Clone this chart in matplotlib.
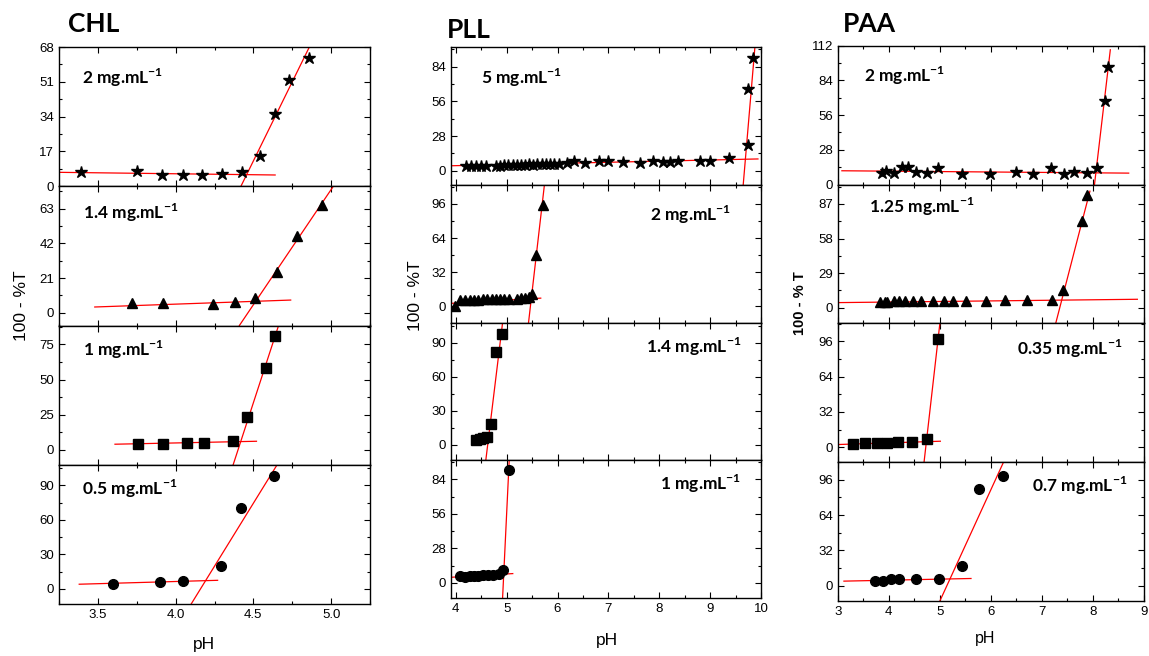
import numpy as np
import matplotlib
matplotlib.use("Agg")
import matplotlib.pyplot as plt
from matplotlib.ticker import AutoMinorLocator

plt.rcParams['font.family'] = ['Liberation Sans', 'DejaVu Sans']
plt.rcParams['mathtext.fontset'] = 'custom'
plt.rcParams['mathtext.rm'] = 'Lato'
plt.rcParams['mathtext.bf'] = 'Lato:bold'

# ---------------- CHL ----------------
chl_2_ph = [3.39, 3.75, 3.91, 4.05, 4.17, 4.30, 4.43, 4.54, 4.64, 4.73, 4.86]
chl_2_val = [6.8, 7.3, 5.4, 5.4, 5.7, 5.9, 7.0, 14.6, 35.3, 52.1, 62.6]
chl_2_base = ([3.25, 4.64], [6.8, 5.5])
chl_2_rise = ([4.42, 4.86], [0, 68])

chl_14_ph = [3.72, 3.92, 4.24, 4.38, 4.51, 4.65, 4.78, 4.94]
chl_14_val = [5.9, 5.9, 5.5, 6.5, 8.9, 24.8, 46.5, 65.0]
chl_14_base = ([3.48, 4.74], [3.5, 7.7])
chl_14_rise = ([4.41, 5.01], [-7.7, 76.0])

chl_1_ph = [3.76, 3.92, 4.07, 4.18, 4.37, 4.46, 4.58, 4.64]
chl_1_val = [4.2, 4.2, 4.7, 5.2, 6.1, 23.1, 58.5, 80.9]
chl_1_base = ([3.61, 4.52], [4.0, 6.1])
chl_1_rise = ([4.37, 4.66], [-10.6, 87.7])

chl_05_ph = [3.60, 3.90, 4.05, 4.29, 4.42, 4.63]
chl_05_val = [4.4, 6.1, 6.7, 20.3, 70.8, 98.4]
chl_05_base = ([3.38, 4.27], [4.1, 7.5])
chl_05_rise = ([4.10, 4.65], [-13.1, 107.4])

# ---------------- PLL ----------------
pll_5_ph = [4.20, 4.29, 4.40, 4.50, 4.59, 4.79, 4.87, 4.95, 5.03, 5.12, 5.20,
            5.28, 5.36, 5.44, 5.52, 5.60, 5.69, 5.77, 5.85, 5.93, 6.02, 6.18,
            6.32, 6.54, 6.82, 7.00, 7.29, 7.62, 7.87, 8.08, 8.21, 8.36, 8.81,
            9.00, 9.38, 9.75, 9.74, 9.85]
pll_5_val = [3.8, 4.0, 4.2, 4.0, 4.3, 4.0, 4.3, 4.5, 4.4, 4.7, 4.9, 4.8, 5.0,
             5.2, 5.0, 5.3, 5.5, 5.2, 5.6, 5.4, 5.8, 6.0, 7.7, 6.0, 8.2, 7.7,
             7.1, 6.6, 7.7, 7.1, 7.1, 8.2, 7.7, 8.2, 10.4, 21.1, 65.9, 91.4]
pll_5_base = ([3.9, 9.94], [4.1, 9.6])
pll_5_rise = ([9.65, 9.88], [-11.4, 99.7])

pll_2_ph = [3.98, 4.08, 4.18, 4.28, 4.36, 4.44, 4.53, 4.62, 4.71, 4.79, 4.87,
            4.95, 5.05, 5.20, 5.28, 5.36, 5.44, 5.49, 5.58, 5.71]
pll_2_val = [0.6, 5.5, 6.0, 6.0, 6.2, 6.2, 6.5, 6.5, 6.8, 6.8, 7.0, 6.5, 7.2,
             6.8, 7.5, 7.5, 8.5, 11.2, 47.8, 95.1]
pll_2_base = ([3.9, 5.67], [2.7, 7.6])
pll_2_rise = ([5.43, 5.74], [-15.4, 113.0])

pll_14_ph = [4.40, 4.48, 4.54, 4.61, 4.69, 4.80, 4.90]
pll_14_val = [4.4, 5.6, 6.2, 6.7, 18.8, 82.1, 97.4]
pll_14_base = ([4.38, 4.66], [3.5, 7.9])
pll_14_rise = ([4.59, 4.92], [-13.5, 107.6])

pll_1_ph = [4.08, 4.18, 4.27, 4.36, 4.44, 4.54, 4.64, 4.74, 4.84, 4.93, 5.04]
pll_1_val = [5.4, 5.2, 5.8, 5.6, 6.0, 6.4, 6.2, 6.8, 7.0, 10.9, 91.9]
pll_1_base = ([3.9, 5.12], [4.6, 7.6])
pll_1_rise = ([4.92, 5.05], [-12.2, 99.5])

# ---------------- PAA ----------------
paa_2_ph = [3.86, 3.94, 4.10, 4.25, 4.38, 4.53, 4.74, 4.97, 5.44, 5.98, 6.49,
            6.83, 7.17, 7.43, 7.63, 7.89, 8.08, 8.23, 8.29]
paa_2_val = [9.5, 10.9, 9.0, 14.1, 14.1, 10.1, 9.5, 13.3, 8.4, 8.7, 10.1, 8.7,
             13.3, 8.7, 10.3, 9.2, 13.6, 67.7, 95.1]
paa_2_base = ([3.08, 8.70], [11.1, 9.2])
paa_2_rise = ([8.03, 8.34], [0, 108.7])

paa_125_ph = [3.83, 3.92, 3.97, 4.10, 4.20, 4.32, 4.48, 4.64, 4.87, 5.08, 5.26,
              5.51, 5.91, 6.27, 6.70, 7.19, 7.41, 7.79, 7.88]
paa_125_val = [5.1, 5.1, 4.8, 5.3, 5.3, 5.3, 5.3, 5.3, 5.6, 5.3, 5.6, 5.9, 5.9,
               6.2, 6.2, 6.7, 14.9, 72.4, 94.9]
paa_125_base = ([3.0, 8.87], [4.2, 7.0])
paa_125_rise = ([7.27, 7.94], [-13.2, 97.7])

paa_035_ph = [3.30, 3.53, 3.76, 3.96, 4.18, 4.45, 4.74, 4.97]
paa_035_val = [3.0, 3.6, 3.6, 3.9, 4.5, 5.1, 7.5, 98.1]
paa_035_base = ([3.0, 5.01], [2.4, 5.4])
paa_035_rise = ([4.69, 5.0], [-13.6, 112.3])

paa_07_ph = [3.73, 3.88, 4.04, 4.20, 4.53, 4.99, 5.44, 5.76, 6.23]
paa_07_val = [4.5, 4.5, 5.7, 5.7, 6.0, 6.0, 18.1, 87.9, 99.3]
paa_07_base = ([3.12, 5.61], [4.2, 6.6])
paa_07_rise = ([5.0, 6.24], [-13.8, 111.3])

W, H = 1149, 656
fig = plt.figure(figsize=(W / 100, H / 100), dpi=100)


def conc(txt):
    return txt + ' mg.mL$^{\\mathbf{-1}}$'


# one panel: (ph, val, base, rise, marker, size, ylim, yticks, label, label_x, label_y)
def column(left, right, top, bottom, panels, xlim, xticks, xticklabels):
    n = len(panels)
    h = (bottom - top) / n
    axes = []
    for i, p in enumerate(panels):
        ph, val, base, rise, mk, ms, ylim, yticks, lab, lx, ly = p
        ax = fig.add_axes([left / W, 1 - (top + (i + 1) * h) / H,
                           (right - left) / W, h / H])
        ax.plot(base[0], base[1], color='red', lw=0.9, zorder=2)
        ax.plot(rise[0], rise[1], color='red', lw=0.9, zorder=2)
        ax.plot(ph, val, ls='none', marker=mk, ms=ms, color='black', zorder=3)
        ax.set_xlim(xlim)
        ax.set_ylim(ylim)
        ax.set_yticks(yticks)
        ax.set_xticks(xticks)
        ax.xaxis.set_minor_locator(AutoMinorLocator(2))
        ax.yaxis.set_minor_locator(AutoMinorLocator(2))
        ax.tick_params(which='both', direction='in', top=True, right=True,
                       labelsize=9.5, width=0.8)
        ax.tick_params(which='major', length=4)
        ax.tick_params(which='minor', length=2.5)
        for s in ax.spines.values():
            s.set_linewidth(1.0)
        if i < n - 1:
            ax.set_xticklabels([])
        else:
            ax.set_xticklabels(xticklabels)
        ax.text(lx, ly, conc(lab), transform=ax.transAxes, family='Lato',
                fontweight='bold', fontsize=12.5, va='center', ha='left')
        axes.append(ax)
    return axes


chl_panels = [
    (chl_2_ph, chl_2_val, chl_2_base, chl_2_rise, '*', 9, (0, 68), [0, 17, 34, 51, 68], '2', 0.074, 0.78),
    (chl_14_ph, chl_14_val, chl_14_base, chl_14_rise, '^', 7.5, (-7.7, 76.6), [0, 21, 42, 63], '1.4', 0.076, 0.806),
    (chl_1_ph, chl_1_val, chl_1_base, chl_1_rise, 's', 6.5, (-10.6, 88.4), [0, 25, 50, 75], '1', 0.076, 0.828),
    (chl_05_ph, chl_05_val, chl_05_base, chl_05_rise, 'o', 7, (-13.1, 108), [0, 30, 60, 90], '0.5', 0.073, 0.828),
]
column(59, 370, 47, 604, chl_panels, (3.25, 5.25), [3.5, 4.0, 4.5, 5.0],
       ['3.5', '4.0', '4.5', '5.0'])

pll_panels = [
    (pll_5_ph, pll_5_val, pll_5_base, pll_5_rise, '*', 9, (-11.4, 99.7), [0, 28, 56, 84], '5', 0.097, 0.775),
    (pll_2_ph, pll_2_val, pll_2_base, pll_2_rise, '^', 7.5, (-15.4, 113.8), [0, 32, 64, 96], '2', 0.643, 0.786),
    (pll_14_ph, pll_14_val, pll_14_base, pll_14_rise, 's', 6.5, (-13.5, 107.6), [0, 30, 60, 90], '1.4', 0.629, 0.825),
    (pll_1_ph, pll_1_val, pll_1_base, pll_1_rise, 'o', 7, (-12.2, 99.5), [0, 28, 56, 84], '1', 0.675, 0.83),
]
column(450.7, 761, 47.3, 598, pll_panels, (3.9, 10), list(range(4, 11)),
       [str(v) for v in range(4, 11)])

paa_panels = [
    (paa_2_ph, paa_2_val, paa_2_base, paa_2_rise, '*', 9, (0, 112), [0, 28, 56, 84, 112], '2', 0.087, 0.785),
    (paa_125_ph, paa_125_val, paa_125_base, paa_125_rise, '^', 7.5, (-13.2, 103.3), [0, 29, 58, 87], '1.25', 0.102, 0.84),
    (paa_035_ph, paa_035_val, paa_035_base, paa_035_rise, 's', 6.5, (-13.6, 112.3), [0, 32, 64, 96], '0.35', 0.584, 0.82),
    (paa_07_ph, paa_07_val, paa_07_base, paa_07_rise, 'o', 7, (-13.8, 112), [0, 32, 64, 96], '0.7', 0.633, 0.832),
]
column(837.8, 1144, 45.7, 601, paa_panels, (3, 9), list(range(3, 10)),
       [str(v) for v in range(3, 10)])

# titles and axis labels
fig.text(68 / W, 1 - 24 / H, 'CHL', family='Lato', fontweight='bold', fontsize=19, va='center')
fig.text(447 / W, 1 - 30 / H, 'PLL', family='Lato', fontweight='bold', fontsize=19, va='center')
fig.text(843 / W, 1 - 24 / H, 'PAA', family='Lato', fontweight='bold', fontsize=19, va='center')

fig.text(22 / W, 1 - 306 / H, '100 - %T', rotation=90, fontsize=12.5, ha='center', va='center')
fig.text(415 / W, 1 - 296 / H, '100 - %T', rotation=90, fontsize=12.5, ha='center', va='center')
fig.text(800 / W, 1 - 303 / H, '100 - % T', rotation=90, fontsize=10.5, fontweight='bold',
         ha='center', va='center')

fig.text(204 / W, 1 - 645 / H, 'pH', fontsize=12.5, ha='center', va='center')
fig.text(607 / W, 1 - 641 / H, 'pH', fontsize=12.5, ha='center', va='center')
fig.text(985 / W, 1 - 638 / H, 'pH', fontsize=11.5, ha='center', va='center')

fig.savefig('out.png', dpi=100)
